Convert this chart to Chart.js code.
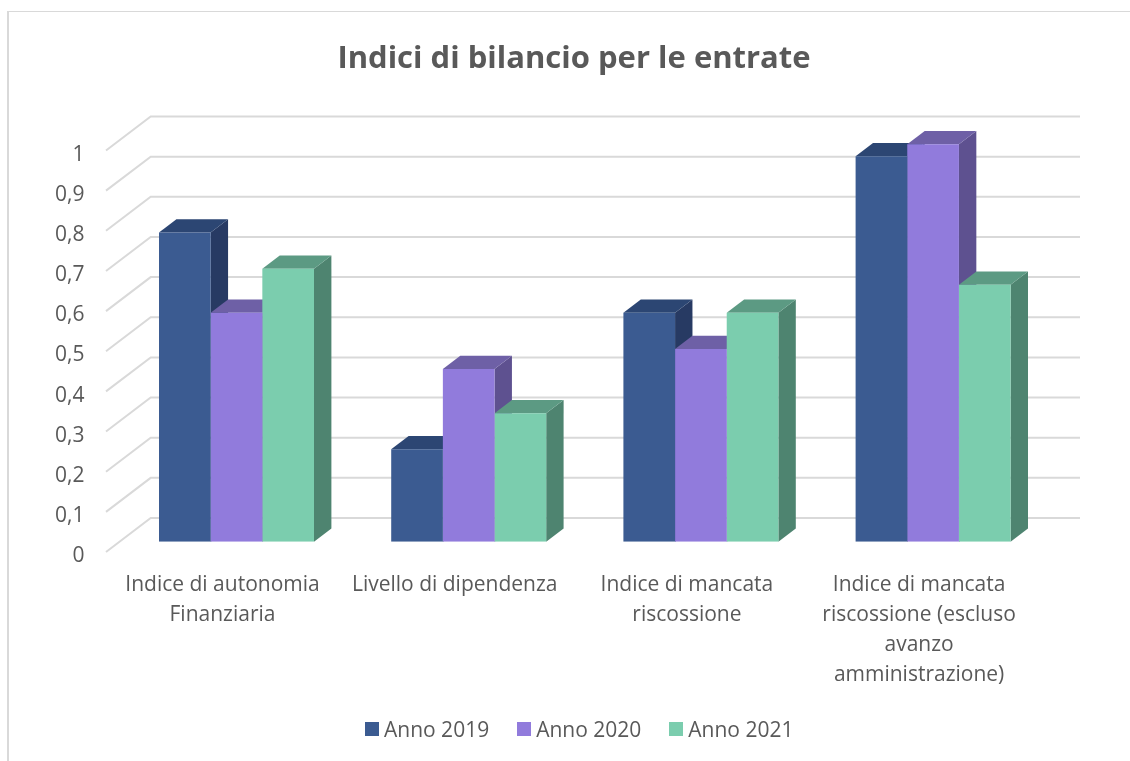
<!DOCTYPE html>
<html>
<head>
<meta charset="utf-8">
<title>Indici di bilancio per le entrate</title>
<script src="https://cdn.jsdelivr.net/npm/chart.js@4"></script>
<style>
  html, body { margin: 0; padding: 0; background: #fff; overflow: hidden; }
  #wrap { position: relative; width: 1130px; height: 761px; }
  #frame { position: absolute; left: 7px; top: 11px; right: 0; bottom: 0; border-left: 2px solid #d9d9d9; border-top: 1px solid #d9d9d9; }
  #legend { position: absolute; left: 365px; top: 715px; display: flex; font: 21px "Open Sans", sans-serif; color: #595959; line-height: 28px; }
  #legend span { display: flex; align-items: center; margin-right: 28px; }
  #legend i { width: 14px; height: 14px; margin-right: 5px; }
</style>
</head>
<body>
<div id="wrap">
  <div id="frame"></div>
  <canvas id="chart" width="1130" height="761" style="position:relative"></canvas>
  <div id="legend"></div>
</div>
<script>
const categories = [
  ["Indice di autonomia", "Finanziaria"],
  "Livello di dipendenza",
  ["Indice di mancata", "riscossione"],
  ["Indice di mancata", "riscossione (escluso", "avanzo", "amministrazione)"],
];
const anno2019 = [0.77, 0.23, 0.57, 0.96];
const anno2020 = [0.57, 0.43, 0.48, 0.99];
const anno2021 = [0.68, 0.32, 0.57, 0.64];
const yTicks = [0, 0.1, 0.2, 0.3, 0.4, 0.5, 0.6, 0.7, 0.8, 0.9, 1];

const palette = {
  blue: { front: "#3b5b91", top: "#2c4673", side: "#273a63" },
  purple: { front: "#917bdc", top: "#6e60a6", side: "#5e5190" },
  green: { front: "#7bcdae", top: "#5c9a83", side: "#4e8470" },
};
const textColor = "#595959";
const gridColor = "#d9d9d9";
const fontFamily = '"Open Sans", sans-serif';

// offset of the bar depth faces
const depthX = 17.4;
const depthY = -13.3;

function polygon(ctx, points, color) {
  ctx.fillStyle = color;
  ctx.beginPath();
  points.forEach(([x, y], i) => (i ? ctx.lineTo(x, y) : ctx.moveTo(x, y)));
  ctx.closePath();
  ctx.fill();
}

// 3D wall lines and the side/top faces of the bars, fronts get drawn after this
const depthPlugin = {
  id: "depth",
  beforeDatasetsDraw(chart) {
    const { ctx, chartArea, scales } = chart;
    const frontX = chartArea.left - 14.4;
    const backX = chartArea.left + 30.3;
    const endX = chartArea.right + 30.8;
    ctx.save();
    ctx.strokeStyle = gridColor;
    ctx.lineWidth = 2;
    yTicks.forEach((value) => {
      const y = scales.y.getPixelForValue(value);
      ctx.beginPath();
      ctx.moveTo(frontX, y + 10.3);
      ctx.lineTo(backX, y - 23.7);
      ctx.lineTo(endX, y - 23.7);
      ctx.stroke();
    });

    chart.data.datasets.forEach((dataset, index) => {
      const colors = dataset.faces;
      chart.getDatasetMeta(index).data.forEach((bar) => {
        const left = bar.x - bar.width / 2;
        const right = bar.x + bar.width / 2;
        polygon(ctx, [
          [right, bar.y],
          [right + depthX, bar.y + depthY],
          [right + depthX, bar.base + depthY],
          [right, bar.base],
        ], colors.side);
        polygon(ctx, [
          [left, bar.y],
          [left + depthX, bar.y + depthY],
          [right + depthX, bar.y + depthY],
          [right, bar.y],
        ], colors.top);
      });
    });
    ctx.restore();
  },
};

function makeDataset(label, data, colors) {
  return {
    label,
    data,
    faces: colors,
    backgroundColor: colors.front,
    borderWidth: 0,
    barPercentage: 1,
    categoryPercentage: 0.6675,
  };
}

const chart = new Chart(document.getElementById("chart"), {
  type: "bar",
  data: {
    labels: categories,
    datasets: [
      makeDataset("Anno 2019", anno2019, palette.blue),
      makeDataset("Anno 2020", anno2020, palette.purple),
      makeDataset("Anno 2021", anno2021, palette.green),
    ],
  },
  plugins: [depthPlugin],
  options: {
    responsive: false,
    animation: false,
    layout: { padding: { left: 18, right: 0, top: 0, bottom: 69.3 } },
    plugins: {
      legend: { display: false },
      tooltip: { enabled: false },
      title: {
        display: true,
        text: "Indici di bilancio per le entrate",
        color: textColor,
        font: { family: fontFamily, size: 31, weight: "bold", lineHeight: 1.2 },
        padding: { top: 40.6, bottom: 62.4 },
      },
    },
    scales: {
      x: {
        grid: { display: false },
        border: { display: false },
        afterFit(scale) { scale.height = 150; },
        ticks: {
          color: textColor,
          font: { family: fontFamily, size: 21, lineHeight: 1.43 },
          padding: 20,
          labelOffset: -14,
          maxRotation: 0,
          autoSkip: false,
        },
      },
      y: {
        min: 0,
        max: 1,
        grid: { display: false },
        border: { display: false },
        afterFit(scale) { scale.width = 102.4; },
        afterBuildTicks(scale) { scale.ticks = yTicks.map((value) => ({ value })); },
        ticks: {
          color: textColor,
          font: { family: fontFamily, size: 21 },
          padding: 28,
          labelOffset: 14.5,
          callback: (value) => String(value).replace(".", ","),
        },
      },
      // only keeps the plot area clear of the right side
      spacer: {
        position: "right",
        grid: { display: false },
        border: { display: false },
        ticks: { display: false },
        afterFit(scale) { scale.width = 80.8; },
      },
    },
  },
});

document.getElementById("legend").innerHTML = chart.data.datasets
  .map((ds) => `<span><i style="background:${ds.backgroundColor}"></i>${ds.label}</span>`)
  .join("");
</script>
</body>
</html>
